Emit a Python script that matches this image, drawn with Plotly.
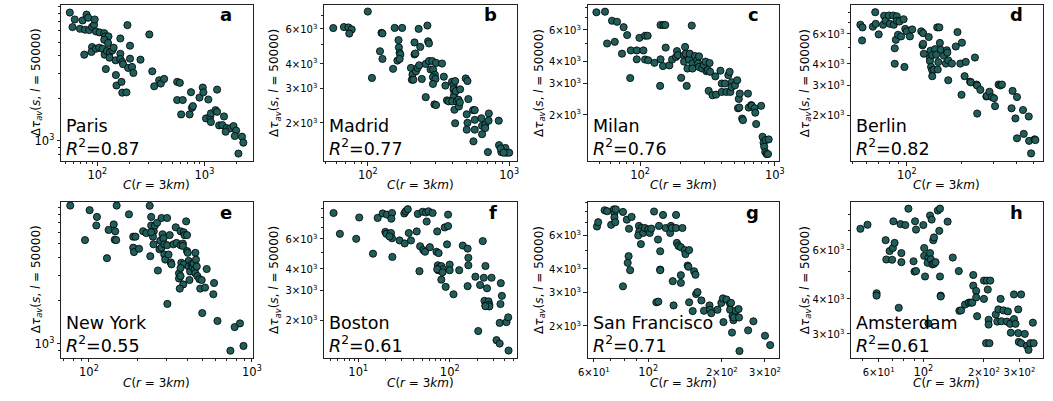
import math
import plotly.graph_objects as go

# ---------------- data ----------------
CITIES = ["Paris", "Madrid", "Milan", "Berlin", "New York", "Boston", "San Francisco", "Amsterdam"]
LETTERS = ["a", "b", "c", "d", "e", "f", "g", "h"]
R2 = ["0.87", "0.77", "0.76", "0.82", "0.55", "0.61", "0.71", "0.61"]

paris_C = [55.3, 61.5, 58.6, 68.8, 72.8, 79.3, 82.1, 76.6, 83.9, 89.3, 93.2, 94.5, 97.2, 105, 116, 118, 127, 116, 126, 191,
           306, 164, 75.5, 89.3, 88.1, 97.2, 104, 112, 117, 123, 131, 130, 138, 142, 148, 164, 164, 171, 174, 202,
           202, 194, 211, 217, 253, 120, 149, 151, 168, 171, 187, 326, 340, 378, 392, 421, 557, 590, 557, 628,
           607, 728, 750, 765, 781, 900, 966, 979, 1089, 1315, 1036, 1135, 1151, 1151, 1270, 1315, 1374, 1472, 1614, 1525,
           1745, 1580, 1871, 1981, 2248, 2312, 2080, 1924]
paris_tau = [8090, 7225, 6380, 6210, 7110, 7830, 7430, 6110, 6080, 6410, 6620, 7225, 5940, 5850, 5780, 5480, 5480, 5190, 4920, 6590,
             5660, 5300, 4070, 4610, 4250, 4480, 4560, 4480, 4070, 4320, 4250, 3875, 4365, 4560, 3710, 4130, 3790, 3610, 3480, 4710,
             3810, 3275, 3330, 3020, 3750, 3220, 2920, 2460, 2610, 2190, 2200, 3100, 2430, 2680, 2540, 2740, 2610, 2570, 1940, 1940,
             1535, 1535, 2205, 1710, 1757, 2020, 2380, 2200, 1958, 2300, 1438, 1477, 1560, 1355, 1645, 1602, 1283, 1290, 1228, 1485,
             1222, 1158, 1269, 1177, 1067, 968, 810, 1079]

madrid_C = [57, 67.8, 73, 77, 74, 100, 107, 125, 127, 122, 127, 151, 155, 165, 166, 168, 170, 162, 175, 168,
            214, 214, 217, 229, 235, 264, 267, 271, 202, 207, 219, 225, 231, 205, 210, 241, 257, 271, 286, 278,
            290, 298, 289, 301, 304, 335, 289, 345, 257, 296, 304, 354, 394, 404, 404, 415, 410, 404, 420, 450,
            363, 373, 396, 426, 438, 410, 441, 448, 415, 514, 493, 507, 556, 571, 501, 507, 501, 571, 571, 636,
            643, 677, 677, 718, 715, 643, 559, 707, 844, 848, 880, 910, 940, 955, 1000, 870, 915]
madrid_tau = [6060, 6130, 6100, 5960, 5680, 7350, 3380, 5730, 5690, 4620, 4220, 3760, 6070, 5260, 4830, 4530, 4450, 4140, 6070, 4220,
              5120, 4450, 4500, 6000, 4860, 6240, 5190, 5060, 3800, 3510, 3650, 3800, 3920, 3310, 3310, 3340, 3980, 4120, 4120, 3730,
              3730, 3510, 3410, 3340, 4030, 4000, 3150, 3430, 2700, 2480, 2460, 3090, 3230, 3120, 2960, 3260, 2830, 2700, 2900, 2960,
              2600, 2570, 2570, 2570, 2620, 2330, 2420, 2540, 1990, 2640, 3360, 3260, 2320, 2320, 2210, 2000, 1845, 2070, 1845, 2110,
              1930, 1950, 1880, 2230, 2050, 1750, 1610, 1420, 2050, 1540, 1420, 1465, 1490, 1410, 1410, 1480, 1410]

milan_C = [47.5, 55, 62, 67.6, 75.6, 57, 65, 73.5, 80.3, 85.5, 99, 109, 114, 94.6, 94.6, 84.6, 106, 109, 115, 142,
           149, 154, 242, 142, 141, 148, 155, 128, 165, 173, 185, 188, 191, 202, 212, 212, 216, 218, 222, 225,
           231, 234, 245, 245, 256, 265, 274, 270, 274, 289, 297, 306, 311, 319, 331, 328, 323, 345, 367, 362,
           395, 404, 427, 452, 462, 404, 437, 468, 480, 478, 506, 526, 540, 550, 533, 545, 572, 580, 640, 632,
           668, 675, 707, 716, 727, 791, 811, 825, 834, 848, 857, 900, 870, 890]
milan_tau = [7520, 7580, 6740, 6650, 6200, 5020, 5130, 4400, 5600, 4590, 5400, 5550, 5550, 4590, 4090, 3210, 4590, 4080, 4040, 6380,
             6380, 6380, 6330, 4090, 2900, 3750, 4760, 3910, 3780, 4080, 4220, 4550, 4320, 3220, 4300, 3970, 4800, 4400, 2900, 3630,
             4080, 4400, 3880, 3630, 4270, 4040, 4250, 3880, 3705, 3630, 3800, 3970, 3510, 3560, 3480, 3900, 2720, 2570, 2590, 3280,
             3530, 2990, 2990, 3330, 3480, 2680, 2680, 2680, 3040, 2860, 2920, 3120, 2450, 2625, 2170, 2190, 1900, 1860, 2190, 2625,
             2260, 2240, 2170, 2050, 1770, 2240, 1500, 1390, 1320, 1230, 1440, 1450, 1200, 1200]

berlin_C = [55.5, 57, 56.7, 65, 67.4, 67, 70, 74, 75, 76.4, 79.6, 84, 88, 80.6, 84.8, 88, 91, 96, 87, 85.8,
            85.8, 89.4, 93, 97, 98, 100, 104, 107, 120, 123, 122, 124, 123, 132, 134, 134, 135, 138, 143, 136,
            138, 141, 138, 145, 147, 151, 148, 149, 152, 154, 160, 166, 167, 164, 169, 177, 169, 186, 190, 201,
            197, 200, 211, 208, 223, 225, 237, 242, 244, 244, 254, 274, 276, 285, 294, 302, 306, 320, 327, 334,
            382, 404, 377, 396, 404, 436, 440, 469, 471, 505, 483, 510]
berlin_tau = [6780, 6540, 5480, 6600, 6860, 8030, 5950, 6780, 7650, 7170, 7680, 7680, 7600, 6860, 6780, 7150, 7080, 7300, 5530, 4930,
              4000, 5920, 5790, 3830, 6410, 6200, 5790, 6360, 6200, 6050, 5130, 4580, 5240, 5740, 4340, 4150, 4770, 4500, 4870, 3830,
              3660, 3690, 3380, 4520, 6540, 6540, 3700, 4090, 5300, 4830, 4460, 4800, 4650, 4010, 4190, 4010, 3200, 5050, 6140, 5320,
              4010, 2630, 4100, 3380, 3140, 3110, 4350, 3020, 2980, 2040, 2810, 2570, 2590, 2740, 2550, 2510, 2255, 3020, 2980, 3020,
              2770, 2550, 2190, 1910, 1460, 2140, 1550, 1960, 1410, 1440, 1190, 1425]

newyork_C = [76.8, 101, 112, 111, 94.6, 132, 142, 145, 144, 147, 148, 176, 129, 187, 193, 187, 189, 203, 215, 225,
             236, 241, 250, 247, 241, 238, 241, 254, 262, 249, 265, 271, 274, 279, 283, 279, 287, 290, 290, 294,
             302, 302, 313, 308, 318, 321, 303, 330, 341, 345, 365, 365, 377, 382, 386, 395, 400, 377, 400, 404,
             409, 357, 357, 365, 369, 382, 379, 361, 365, 409, 418, 428, 414, 432, 439, 445, 450, 454, 450, 459,
             463, 476, 492, 482, 516, 528, 496, 586, 580, 615, 784, 845, 738, 888]
newyork_tau = [9230, 8570, 7690, 6700, 5300, 6240, 6820, 6100, 5330, 5300, 9230, 8020, 3960, 5600, 5600, 4690, 4370, 4610, 6110, 5930,
               9200, 7690, 6110, 5600, 6700, 4090, 6010, 6700, 7000, 4950, 3250, 4570, 5250, 7560, 5820, 4690, 5450, 4950, 4200, 3875,
               7560, 4880, 5740, 4200, 3700, 3590, 1900, 4950, 6510, 5060, 6110, 4880, 5010, 6010, 5740, 7160, 5740, 4820, 4440, 4320,
               3790, 3110, 2860, 2970, 3680, 3590, 2600, 2430, 3380, 3470, 3200, 3590, 2790, 3440, 3640, 3290, 4320, 3875, 3110, 3470,
               2970, 2830, 2790, 2430, 2470, 3330, 1640, 2660, 2220, 1445, 1310, 1390, 896, 968]

boston_C = [5.37, 6.3, 9.5, 10.25, 14.5, 16.3, 18.5, 20.6, 19.8, 20.3, 23.4, 23, 22.8, 23.4, 23.6, 22, 28.3, 31.9, 33, 34.8,
            32.2, 35.7, 37.7, 43.6, 44.8, 46.7, 47.5, 50.6, 51.4, 53.8, 55, 56, 58.6, 60.7, 65, 71.7, 73, 75.7, 74.2, 75,
            78, 80, 81, 84.7, 73, 81, 83.5, 90.4, 88.2, 96, 93.5, 96, 100, 100, 110, 127, 139, 157, 160, 160,
            157, 191, 215, 230, 236, 246, 256, 287, 240, 246, 266, 271, 271, 246, 205, 362, 372, 359, 352, 325,
            352, 418, 436, 440]
boston_tau = [8500, 6420, 6000, 8000, 4910, 7960, 8450, 8320, 6590, 6420, 8500, 7880, 6490, 6050, 4700, 6200, 5870, 8450, 8700, 8950,
              5640, 6490, 5870, 6630, 8400, 3880, 5430, 8650, 5160, 5040, 8560, 7580, 8700, 5360, 8500, 5040, 6630, 4950, 4200, 3930,
              4090, 3930, 4150, 3980, 3980, 3460, 3820, 3140, 7000, 7130, 5570, 8320, 4240, 3930, 2840, 3930, 5480, 5260, 4650, 4200,
              3170, 3600, 3220, 5820, 3550, 4160, 3080, 3550, 2600, 2440, 2580, 2470, 2410, 2420, 1730, 3300, 2780, 2490, 1930, 1530,
              1460, 1950, 2080, 1330]

sanfrancisco_C = [61.8, 62.5, 66.4, 68, 70.6, 72.4, 72.8, 72.8, 73.4, 73.8, 78.9, 81.8, 83.5, 85.6, 91.7, 94, 92, 91.1, 93.4, 95.5,
                  97, 100, 101.5, 103, 83.2, 82.5, 84.4, 78.9, 105.7, 109.7, 110.7, 112, 112, 112, 115, 108, 110, 118, 123, 124,
                  125, 130, 130, 131, 126, 127, 136, 136, 138, 133, 136, 141, 142, 145, 146, 147, 147, 152, 154, 156,
                  157, 159, 165, 169, 178, 179, 181, 192, 199, 202, 209, 216, 216, 218, 221, 223, 224, 228, 234, 235,
                  203, 220, 236, 256, 269, 300, 315]
sanfrancisco_tau = [6690, 7050, 8150, 8060, 6830, 8240, 7860, 7470, 7050, 8240, 7990, 7270, 6510, 7520, 6740, 6570, 6290, 6000, 5400, 6190,
                    6570, 6450, 6190, 6520, 4660, 4300, 3930, 3230, 8030, 5710, 6740, 4950, 3960, 3930, 7700, 2660, 2680, 6570, 6190, 6740,
                    6570, 7700, 6570, 5480, 3440, 2560, 3700, 3370, 6570, 5280, 5200, 5020, 4780, 4160, 4100, 5020, 2660, 2390, 3880, 3720,
                    2940, 3010, 2720, 2400, 2560, 2430, 2330, 2430, 2640, 2790, 2750, 2610, 2430, 2640, 2250, 2140, 2210, 2400, 2450, 2210,
                    2090, 1840, 1470, 1890, 2110, 1770, 1580]

amsterdam_C = [48.7, 52.8, 58.6, 58.6, 65, 65.5, 68, 70, 70.6, 72, 71, 75.5, 77, 77.8, 77.8, 81.4, 84.3, 89.4, 90.4, 92,
               91, 92, 100, 101, 102, 101, 106, 105, 108, 108, 110, 109, 111, 113, 112, 113, 115, 118, 121, 120,
               121, 106, 122, 122, 132, 140, 150, 151, 154, 161, 168, 172, 175, 177, 177, 183, 183, 185, 200, 200,
               207, 209, 215, 205, 213, 211, 211, 229, 233, 236, 242, 244, 250, 260, 263, 270, 272, 282, 282, 287,
               296, 296, 298, 306, 306, 319, 327, 333, 340, 353, 350]
amsterdam_tau = [7120, 7360, 4190, 4110, 6480, 5530, 5930, 5520, 6080, 6340, 7570, 3720, 7400, 5830, 5410, 7340, 8400, 5450, 5010, 5030,
                 7570, 7070, 7340, 6080, 4810, 5700, 5620, 5380, 5830, 7940, 7680, 5540, 5310, 5340, 6480, 6630, 5410, 8270, 8400, 7000,
                 4810, 3270, 4110, 4080, 7550, 5620, 5030, 3630, 3640, 3820, 3880, 3880, 3880, 4870, 4460, 4270, 4050, 3470, 4650, 4000,
                 4650, 4320, 4650, 2780, 2780, 3370, 3240, 3520, 3320, 3670, 4000, 3330, 3640, 3320, 3610, 3260, 3030, 4150, 3390, 3260,
                 3670, 3020, 2810, 4150, 2780, 3000, 2720, 2630, 2780, 2780, 3290]

SERIES_C = [paris_C, madrid_C, milan_C, berlin_C, newyork_C, boston_C, sanfrancisco_C, amsterdam_C]
SERIES_TAU = [paris_tau, madrid_tau, milan_tau, berlin_tau, newyork_tau, boston_tau, sanfrancisco_tau, amsterdam_tau]

# axis view limits (log10) per panel
X_RANGES = [(1.661, 3.450), (1.692, 3.058), (1.612, 3.032), (1.694, 2.748),
            (1.829, 3.004), (0.628, 2.740), (1.753, 2.535), (1.642, 2.593)]
Y_RANGES = [(2.856, 3.965), (3.107, 3.902), (3.040, 3.920), (3.031, 3.950),
            (2.905, 3.990), (3.083, 3.994), (3.133, 3.955), (3.393, 3.948)]

# ---------------- layout geometry ----------------
W, H = 1053, 401
COL_X = [(52, 247), (320, 516.7), (588.3, 783.3), (856.7, 1051.7)]
ROW_Y = [(4.5, 161), (202, 357.5)]
YTITLE_X = [27, 270, 539, 810]
XTITLE_Y = [185, 383]

MARKER_COLOR = "#1f5e5b"
FONT = "DejaVu Sans"


def log_ticks(lo, hi):
    label_minor = (hi - lo) <= 1.0
    vals, texts, minor = [], [], []
    for k in range(math.floor(lo), math.ceil(hi) + 1):
        for m in range(1, 10):
            v = m * 10 ** k
            lv = math.log10(v)
            if lv < lo - 1e-9 or lv > hi + 1e-9:
                continue
            if m == 1:
                vals.append(v)
                texts.append(f"10<sup>{k}</sup>")
            elif label_minor and m in (2, 3, 4, 6):
                vals.append(v)
                texts.append(f"<span style='font-size:10px'>{m}\u00d710<sup>{k}</sup></span>")
            else:
                minor.append(v)
    return vals, texts, minor


fig = go.Figure()
layout = dict(
    width=W, height=H,
    margin=dict(l=0, r=0, t=0, b=0),
    paper_bgcolor="white", plot_bgcolor="white",
    showlegend=False,
    font=dict(family=FONT, color="black", size=12),
)
annotations = []

for i in range(8):
    r, c = divmod(i, 4)
    sfx = "" if i == 0 else str(i + 1)
    xa, ya = "xaxis" + sfx, "yaxis" + sfx
    xr, yr = "x" + sfx, "y" + sfx
    x0, x1 = COL_X[c]
    y0, y1 = ROW_Y[r]
    xs, ys = SERIES_C[i], SERIES_TAU[i]
    n = min(len(xs), len(ys))
    fig.add_trace(go.Scatter(
        x=xs[:n], y=ys[:n], mode="markers", xaxis=xr, yaxis=yr,
        marker=dict(size=7.2, color=MARKER_COLOR, line=dict(color="black", width=0.8)),
        hoverinfo="x+y",
    ))
    xv, xt, xm = log_ticks(*X_RANGES[i])
    yv, yt, ym = log_ticks(*Y_RANGES[i])
    common = dict(type="log", showgrid=False, zeroline=False, showline=True, mirror=True,
                  linecolor="#222222", linewidth=1, ticks="outside", ticklen=3.5, tickwidth=0.8,
                  tickcolor="#222222", tickmode="array",
                  tickfont=dict(family=FONT, size=11.5, color="black"))
    layout[xa] = dict(common, domain=[x0 / W, x1 / W], range=list(X_RANGES[i]), anchor=yr,
                      tickvals=xv, ticktext=xt,
                      minor=dict(tickmode="array", tickvals=xm, ticks="outside", ticklen=2,
                                 tickwidth=0.6, tickcolor="#222222", showgrid=False))
    layout[ya] = dict(common, domain=[1 - y1 / H, 1 - y0 / H], range=list(Y_RANGES[i]), anchor=xr,
                      tickvals=yv, ticktext=yt,
                      minor=dict(tickmode="array", tickvals=ym, ticks="outside", ticklen=2,
                                 tickwidth=0.6, tickcolor="#222222", showgrid=False))
    # city name + R^2
    annotations.append(dict(
        xref=xr + " domain", yref=yr + " domain", x=0.015, y=0.0, xanchor="left", yanchor="bottom",
        text=f"{CITIES[i]}<br><i>R</i><sup>2</sup>=" + R2[i], showarrow=False, align="left",
        font=dict(family=FONT, size=17.5, color="black")))
    # panel letter
    annotations.append(dict(
        xref=xr + " domain", yref=yr + " domain", x=0.905, y=1.015, xanchor="right", yanchor="top",
        text=f"<b>{LETTERS[i]}</b>", showarrow=False,
        font=dict(family=FONT, size=18, color="black")))
    # axis titles
    annotations.append(dict(
        xref="paper", yref="paper", x=(x0 + x1) / 2 / W, y=1 - XTITLE_Y[r] / H,
        xanchor="center", yanchor="middle", showarrow=False,
        text="<i>C</i>(<i>r</i> = 3<i>km</i>)", font=dict(family=FONT, size=12, color="black")))
    annotations.append(dict(
        xref="paper", yref="paper", x=YTITLE_X[c] / W, y=1 - (y0 + y1) / 2 / H,
        xanchor="center", yanchor="middle", showarrow=False, textangle=-90,
        text="\u0394<i>\u03c4</i><sub><i>av</i></sub>(<i>s</i>, <i>l</i> = 50000)",
        font=dict(family=FONT, size=12, color="black")))

layout["annotations"] = annotations
fig.update_layout(**layout)
fig.write_html("out.html", config={"displayModeBar": False},
               post_script="document.body.style.margin='0';document.body.style.overflow='hidden';")
